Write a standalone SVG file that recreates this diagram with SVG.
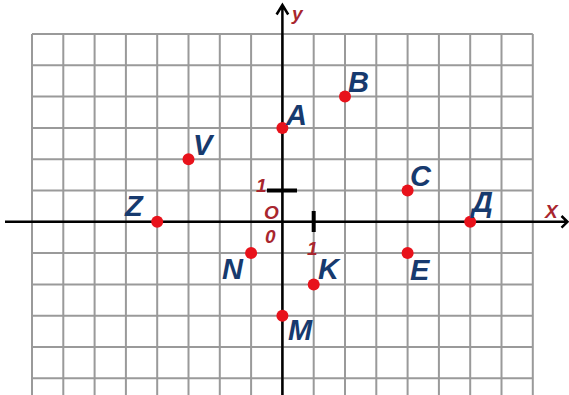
<svg xmlns="http://www.w3.org/2000/svg" width="569" height="395" viewBox="0 0 569 395">
<style>
.grid{fill:none;stroke:#9a9a9a;stroke-width:2}
.axis{fill:none;stroke:#000;stroke-width:2.5}
.tick{stroke:#000;stroke-width:4}
.dot{fill:#e8121b}
.lbl{font-family:"Liberation Sans",Arial,sans-serif;font-weight:bold;font-style:italic;font-size:29px;fill:#173a6e}
.num{font-family:"Liberation Sans",Arial,sans-serif;font-weight:bold;font-style:italic;font-size:19px;fill:#a8262e}
</style>
<rect width="569" height="395" fill="#fff"/>
<g id="grid">
<path class="grid" d="M32 34V395M63.3 34V395M94.6 34V395M125.9 34V395M157.2 34V395M188.5 34V395M219.8 34V395M251.1 34V395M282.4 34V395M313.7 34V395M345 34V395M376.3 34V395M407.6 34V395M438.9 34V395M470.2 34V395M501.5 34V395M532.8 34V395M32 34H532.8M32 65.3H532.8M32 96.6H532.8M32 127.9H532.8M32 159.2H532.8M32 190.5H532.8M32 221.8H532.8M32 253.1H532.8M32 284.4H532.8M32 315.7H532.8M32 347H532.8M32 378.3H532.8"/>
</g>
<g id="connectors">
<path class="axis" d="M5 221.8H567M561.5 216L567.5 221.8L561.5 227.6"/>
<path class="axis" d="M282.4 395V5M276.6 14.5L282.4 5L288.2 14.5"/>
<path class="tick" d="M267 190.5H297M313.7 211V232"/>
</g>
<g id="axis-labels">
<text class="num" x="292" y="20" font-size="21">y</text>
<text class="num" x="545" y="218">X</text>
<text class="num" x="256" y="192">1</text>
<text class="num" x="264" y="219">O</text>
<text class="num" x="265" y="243">0</text>
<text class="num" x="307" y="255">1</text>
</g>
<g id="A"><circle class="dot" cx="282.4" cy="127.9" r="6"/><text class="lbl" x="286" y="125">A</text></g>
<g id="B"><circle class="dot" cx="345" cy="96.6" r="6"/><text class="lbl" x="348" y="91.5">B</text></g>
<g id="V"><circle class="dot" cx="188.5" cy="159.2" r="6"/><text class="lbl" x="193" y="155">V</text></g>
<g id="C"><circle class="dot" cx="407.6" cy="190.5" r="6"/><text class="lbl" x="410" y="185.5">C</text></g>
<g id="D"><circle class="dot" cx="470.2" cy="221.8" r="6"/><text class="lbl" x="472" y="211.5">Д</text></g>
<g id="Z"><circle class="dot" cx="157.2" cy="221.8" r="6"/><text class="lbl" x="125" y="216">Z</text></g>
<g id="N"><circle class="dot" cx="251.1" cy="253.1" r="6"/><text class="lbl" x="222" y="279">N</text></g>
<g id="K"><circle class="dot" cx="313.7" cy="284.4" r="6"/><text class="lbl" x="318" y="279">K</text></g>
<g id="E"><circle class="dot" cx="407.6" cy="253.1" r="6"/><text class="lbl" x="410" y="280">E</text></g>
<g id="M"><circle class="dot" cx="282.4" cy="315.7" r="6"/><text class="lbl" x="288" y="340">M</text></g>
</svg>
